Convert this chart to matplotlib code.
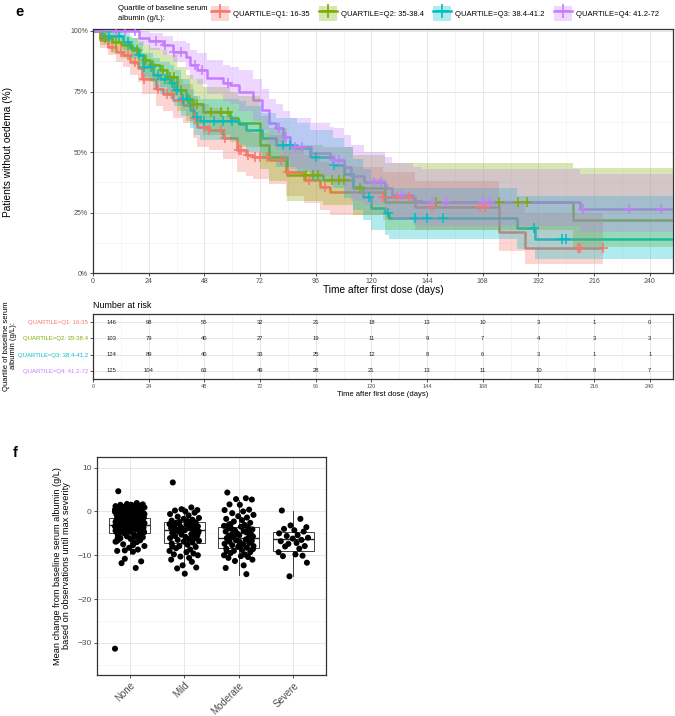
import numpy as np
import matplotlib
matplotlib.use("Agg")
import matplotlib.pyplot as plt
from matplotlib.patches import Patch
from matplotlib.lines import Line2D
from matplotlib.ticker import FixedLocator

plt.rcParams['font.family'] = ['Liberation Sans', 'DejaVu Sans']

# ---------------- data: panel e (Kaplan-Meier) ----------------
group_labels = ["QUARTILE=Q1: 16-35", "QUARTILE=Q2: 35-38.4",
                "QUARTILE=Q3: 38.4-41.2", "QUARTILE=Q4: 41.2-72"]

q1_t = [0, 3, 6.5, 10, 13, 16, 19.5, 21, 27, 30, 34.5, 39, 43, 45, 50, 56, 62, 66, 69, 76,
        83, 91, 98, 102, 125, 139, 175, 186]
q1_s = [1.0, .963, .935, .914, .90, .873, .847, .80, .76, .74, .715, .694, .64, .605, .59, .56, .51, .49, .48, .467,
        .42, .385, .357, .336, .316, .273, .171, .103]
q1_lo = [1.0, .93, .90, .87, .85, .82, .79, .74, .69, .67, .64, .62, .56, .52, .51, .47, .42, .40, .39, .37,
         .32, .29, .26, .24, .22, .18, .09, .04]
q1_up = [1.0, .99, .98, .96, .95, .93, .91, .87, .83, .82, .80, .78, .73, .70, .68, .65, .61, .59, .58, .57,
         .52, .49, .46, .44, .42, .38, .30, .25]
q1_end = 220
q1_cens = [8, 12, 15, 18, 22, 28, 32, 34, 38, 44, 48, 50, 55, 57, 63, 64, 67, 70, 72, 75, 81, 84,
           93, 100, 125, 131, 136, 146, 167, 169, 209, 210, 220]

q2_t = [0, 3, 8, 12, 17, 20, 22, 24.6, 29, 32, 36, 40, 43, 47.5, 59, 62.5, 72, 76, 83.5, 99,
        112, 126, 207]
q2_s = [1.0, .97, .955, .94, .92, .90, .88, .86, .84, .81, .756, .715, .70, .667, .64, .62, .53, .48, .405, .385,
        .35, .295, .219]
q2_lo = [1.0, .94, .91, .89, .86, .84, .81, .79, .77, .73, .67, .63, .61, .57, .54, .52, .43, .38, .30, .28,
         .24, .18, .11]
q2_up = [1.0, 1.0, .99, .98, .97, .96, .94, .93, .92, .90, .85, .82, .80, .77, .75, .73, .65, .60, .53, .52,
         .49, .455, .435]
q2_end = 250
q2_cens = [5, 10, 15, 19, 23, 26, 30, 33, 35, 38, 42, 45, 51, 55, 58, 92, 95, 97, 103, 106, 108,
           115, 148, 175, 183, 187]

q3_t = [0, 4, 13, 16, 19.5, 21.6, 26, 29, 33, 35, 38, 42, 43.5, 46, 63, 66, 73, 79, 88, 93.5,
        103.5, 108, 112, 116.5, 120, 126, 127.5, 182.6, 190.5]
q3_s = [1.0, .98, .955, .93, .90, .85, .82, .80, .785, .756, .72, .674, .646, .63, .615, .59, .56, .53, .515, .48,
        .446, .41, .357, .315, .268, .248, .227, .185, .143]
q3_lo = [1.0, .955, .92, .89, .86, .80, .76, .74, .72, .69, .65, .60, .57, .55, .53, .50, .47, .44, .42, .38,
         .35, .31, .26, .22, .18, .16, .14, .10, .06]
q3_up = [1.0, 1.0, .99, .97, .95, .91, .89, .87, .86, .84, .80, .76, .73, .72, .71, .69, .66, .64, .62, .59,
         .56, .52, .47, .43, .39, .37, .35, .32, .32]
q3_end = 250
q3_cens = [7, 11, 15, 20, 22, 25, 28, 31, 34, 36, 39, 41, 45, 48, 52, 56, 60, 82, 85, 96, 104,
           119, 127, 139, 144, 151, 190, 202, 204]

q4_t = [0, 20, 24, 30, 34.5, 40, 42, 45, 49, 56, 59, 63, 69, 73, 76, 79, 82, 85, 94, 102,
        104, 108, 111, 117, 126, 129, 138, 142, 210]
q4_s = [1.0, .97, .96, .94, .914, .894, .86, .84, .805, .784, .777, .75, .715, .674, .62, .60, .563, .52, .496, .475,
        .467, .44, .40, .378, .35, .322, .30, .295, .267]
q4_lo = [1.0, .94, .92, .90, .87, .84, .80, .78, .74, .71, .70, .67, .63, .59, .53, .51, .47, .43, .40, .38,
         .37, .34, .30, .28, .25, .22, .20, .195, .17]
q4_up = [1.0, 1.0, .99, .98, .96, .95, .92, .91, .88, .86, .85, .84, .80, .76, .72, .70, .67, .64, .62, .605,
         .60, .57, .53, .50, .48, .455, .44, .43, .41]
q4_end = 250
q4_cens = [10, 14, 18, 27, 31, 35, 38, 44, 47, 58, 80, 83, 87, 90, 104, 106, 121, 124, 133,
           146, 152, 168, 171, 211, 231, 245]

risk_times = [0, 24, 48, 72, 96, 120, 144, 168, 192, 216, 240]
risk_q1 = [146, 98, 55, 32, 21, 18, 13, 10, 3, 1, 0]
risk_q2 = [103, 79, 40, 27, 19, 11, 9, 7, 4, 3, 3]
risk_q3 = [124, 89, 40, 33, 25, 12, 8, 6, 3, 1, 1]
risk_q4 = [125, 104, 63, 49, 28, 21, 13, 11, 10, 8, 7]

# ---------------- data: panel f (box + jitter) ----------------
severity = ["None", "Mild", "Moderate", "Severe"]
box_q1 = [-4.9, -7.2, -8.3, -9.0]
box_med = [-3.1, -4.35, -6.0, -6.2]
box_q3 = [-1.4, -2.5, -3.6, -4.7]
box_whislo = [-9.8, -12.5, -14.4, -14.8]
box_whishi = [2.0, 1.0, 2.6, 0.2]

none_vals = [4.6, 1.9, 1.7, 1.6, 1.5, 1.5, 1.3, 1.2, 1.1, 0.9, 0.9, 0.8, 0.6, 0.5, 0.5, 0.4, 0.2, 0.1,
             0.1, -0.1, -0.2, -0.3, -0.3, -0.5, -0.6, -0.7, -0.8, -0.8, -1.0, -1.1, -1.2, -1.2, -1.3,
             -1.4, -1.5, -1.6, -1.7, -1.7, -1.9, -2.0, -2.1, -2.1, -2.3, -2.4, -2.4, -2.5, -2.6, -2.7,
             -2.8, -2.9, -2.9, -3.0, -3.1, -3.2, -3.3, -3.3, -3.4, -3.5, -3.6, -3.7, -3.8, -3.9, -4.0,
             -4.0, -4.1, -4.3, -4.4, -4.5, -4.6, -4.7, -4.8, -4.9, -5.1, -5.2, -5.4, -5.6, -5.7, -5.9,
             -6.1, -6.3, -6.6, -6.9, -7.2, -7.5, -7.9, -8.3, -8.7, -9.0, -9.2, -10.8, -11.4, -11.8,
             -12.9, -31.3, 1.4, 0.7, 0.3, -0.4, -0.9, -1.5, -1.8, -2.2, -2.6, -3.0, -3.4, -3.8, -4.2,
             -4.6, -5.0, -5.5, -6.0, -6.5, -7.0, -0.2, -1.1, -2.0, -2.8, -3.6, -4.4, -5.3, 1.0, -0.6,
             -2.5, -3.2, -4.8, -7.7, -8.9, -3.9, -2.3, -1.3, 0.4, -0.7, -1.9, -2.7, -3.5, -4.1, -5.8,
             -6.8, 1.2, -1.6, -3.0, -4.5]
mild_vals = [6.6, 0.9, 0.5, 0.3, 0.2, 0.0, -0.3, -0.6, -0.9, -1.2, -1.5, -1.7, -1.9, -2.1, -2.2, -2.4,
             -2.5, -2.6, -2.8, -2.9, -3.0, -3.1, -3.3, -3.4, -3.5, -3.6, -3.8, -3.9, -4.0, -4.1, -4.2,
             -4.3, -4.4, -4.5, -4.6, -4.7, -4.9, -5.0, -5.2, -5.3, -5.5, -5.6, -5.8, -6.0, -6.1, -6.3,
             -6.5, -6.7, -6.9, -7.1, -7.3, -7.6, -7.9, -8.1, -8.4, -8.7, -9.0, -9.3, -9.6, -9.8, -10.0,
             -10.3, -10.6, -11.0, -11.5, -12.3, -12.8, -13.0, -14.2, -3.7, -4.8, -2.7, -6.2, -8.0]
moderate_vals = [4.3, 3.0, 2.8, 2.7, 1.6, 1.5, 0.4, 0.3, 0.0, -0.4, -0.8, -1.1, -1.4, -1.7, -2.0, -2.3,
                 -2.6, -2.9, -3.1, -3.3, -3.5, -3.7, -3.9, -4.1, -4.3, -4.5, -4.6, -4.8, -5.0, -5.1,
                 -5.3, -5.4, -5.6, -5.7, -5.9, -6.0, -6.1, -6.3, -6.4, -6.6, -6.7, -6.9, -7.0, -7.2,
                 -7.4, -7.5, -7.7, -7.9, -8.1, -8.3, -8.5, -8.8, -9.0, -9.3, -9.5, -9.8, -10.0, -10.2,
                 -10.4, -10.6, -11.0, -11.3, -12.3, -12.9, -14.3, -5.2, -6.2, -4.0, -7.8, -3.0, -8.6,
                 -5.8, -4.4, -9.1]
severe_vals = [0.2, -1.7, -3.2, -3.6, -4.0, -4.3, -4.6, -5.0, -5.4, -5.6, -6.0, -6.2, -6.5, -6.8,
               -7.2, -7.4, -7.9, -8.0, -8.5, -9.3, -9.8, -10.1, -10.2, -11.7, -14.8]

# ---------------- style ----------------
W, H = 675, 716
cols = ["#F8766D", "#7CAE00", "#00BFC4", "#C77CFF"]
jitter_offsets = [-0.21, 0.13, -0.05, 0.24, -0.17, 0.02, 0.19, -0.26, 0.08, -0.12, 0.27, -0.01,
                  0.15, -0.23, 0.06, -0.09, 0.21, -0.15, 0.11, -0.27, 0.04, 0.17, -0.19, 0.25,
                  -0.07, 0.09, -0.24, 0.14, -0.03, 0.22, -0.13, 0.01, -0.18, 0.26, -0.10, 0.18, -0.22]
BORDER = "#333333"
TICKLAB = "#4D4D4D"
GRIDMAJ = "#E6E6E6"
GRIDMIN = "#F2F2F2"

fig = plt.figure(figsize=(W / 100, H / 100), dpi=100)
fig.patch.set_facecolor("white")


def px_axes(l, t, r, b):
    return fig.add_axes([l / W, 1 - b / H, (r - l) / W, (b - t) / H])


def theme_bw(ax, labsize):
    for sp in ax.spines.values():
        sp.set_color(BORDER)
        sp.set_linewidth(0.9)
    ax.tick_params(which="major", color=BORDER, length=2.2, width=0.6,
                   labelcolor=TICKLAB, labelsize=labsize, pad=1.5)
    ax.tick_params(which="minor", length=0)
    ax.grid(True, which="major", color=GRIDMAJ, lw=0.7, zorder=0)
    ax.grid(True, which="minor", color=GRIDMIN, lw=0.5, zorder=0)
    ax.set_axisbelow(True)


# ---------------- panel e: KM ----------------
ax = px_axes(93, 29, 673, 273.3)
theme_bw(ax, 5)
groups = [(q1_t, q1_s, q1_lo, q1_up, q1_end, q1_cens),
          (q2_t, q2_s, q2_lo, q2_up, q2_end, q2_cens),
          (q3_t, q3_s, q3_lo, q3_up, q3_end, q3_cens),
          (q4_t, q4_s, q4_lo, q4_up, q4_end, q4_cens)]
for (t, s, lo, up, end, cens), c in zip(groups, cols):
    tl = list(t) + [end]
    sl = list(s) + [s[-1]]
    lol = list(lo) + [lo[-1]]
    upl = list(up) + [up[-1]]
    ax.step(tl, sl, where="post", color=c, lw=1.8, zorder=2, solid_capstyle="butt")
    ax.fill_between(tl, lol, upl, step="post", color=c, alpha=0.3, lw=0, zorder=3)
for (t, s, lo, up, end, cens), c in zip(groups, cols):
    idx = np.searchsorted(np.array(t), np.array(cens), side="right") - 1
    ax.plot(cens, np.array(s)[idx], ls="none", marker="+", ms=7, mew=1.1, color=c, zorder=4)

ax.set_xlim(0, 250)
ax.set_ylim(0, 1.008)
ax.xaxis.set_major_locator(FixedLocator(risk_times))
ax.xaxis.set_minor_locator(FixedLocator([12 + 24 * i for i in range(11)]))
ax.yaxis.set_major_locator(FixedLocator([0, .25, .5, .75, 1.0]))
ax.yaxis.set_minor_locator(FixedLocator([.125, .375, .625, .875]))
ax.set_yticklabels(["0%", "25%", "50%", "75%", "100%"])
fig.text(383 / W, 1 - 290 / H, "Time after first dose (days)", ha="center", va="center", fontsize=7.3)
fig.text(8 / W, 1 - 152 / H, "Patients without oedema (%)", ha="center", va="center",
         rotation=90, fontsize=7.3)
fig.text(20 / W, 1 - 12 / H, "e", ha="center", va="center", fontsize=10.5, fontweight="bold")

# legend
fig.text(118 / W, 1 - 13.5 / H, "Quartile of baseline serum\nalbumin (g/L):", ha="left", va="center",
         fontsize=5.5, linespacing=1.5)
handles = [(Patch(facecolor=c, alpha=0.3, edgecolor="none"),
            Line2D([], [], color=c, lw=1.8, marker="+", ms=10, mew=1.2)) for c in cols]
fig.legend(handles, group_labels, loc="center left", bbox_to_anchor=(211 / W, 1 - 13.5 / H),
           ncol=4, frameon=False, fontsize=5.5, handlelength=2.3, handleheight=2.6,
           handletextpad=0.6, columnspacing=1.2, borderpad=0, borderaxespad=0)

# ---------------- risk table ----------------
axr = px_axes(93, 314, 673, 379)
theme_bw(axr, 4)
axr.set_xlim(0, 250)
axr.set_ylim(4.5, 0.5)
axr.xaxis.set_major_locator(FixedLocator(risk_times))
axr.xaxis.set_minor_locator(FixedLocator([12 + 24 * i for i in range(11)]))
axr.yaxis.set_major_locator(FixedLocator([1, 2, 3, 4]))
axr.set_yticklabels(group_labels, fontsize=4.3)
for tl_, c in zip(axr.get_yticklabels(), cols):
    tl_.set_color(c)
first_col_x = 8
for row, (vals, c) in enumerate(zip([risk_q1, risk_q2, risk_q3, risk_q4], cols), start=1):
    for tt, v in zip(risk_times, vals):
        axr.text(tt if tt > 0 else first_col_x, row, str(v), ha="center", va="center",
                 fontsize=4.2, color="#222222")
axr.set_title("Number at risk", loc="left", fontsize=6.4, pad=4)
axr.set_xlabel("Time after first dose (days)", fontsize=5.5, labelpad=1.5)
fig.text(10 / W, 1 - 346 / H, "Quartile of baseline serum\nalbumin (g/L):", ha="center",
         va="center", rotation=90, fontsize=5.5, linespacing=1.1)

# ---------------- panel f: box + jitter ----------------
axb = px_axes(97, 457, 326, 675)
theme_bw(axb, 6)

stats = []
for i in range(4):
    stats.append({"med": box_med[i], "q1": box_q1[i], "q3": box_q3[i],
                  "whislo": box_whislo[i], "whishi": box_whishi[i], "fliers": []})
axb.bxp(stats, positions=[1, 2, 3, 4], widths=0.75, showfliers=False, showcaps=False,
        patch_artist=True,
        boxprops=dict(facecolor="white", edgecolor="#222222", lw=0.6),
        medianprops=dict(color="#222222", lw=1.0),
        whiskerprops=dict(color="#222222", lw=0.6), zorder=2)
for i, vals in enumerate([none_vals, mild_vals, moderate_vals, severe_vals]):
    xs = [i + 1 + jitter_offsets[k % len(jitter_offsets)] for k in range(len(vals))]
    axb.scatter(xs, vals, s=19, color="black", edgecolors="none", zorder=3)

axb.set_xlim(0.4, 4.6)
axb.set_ylim(-37.3, 12.4)
axb.yaxis.set_major_locator(FixedLocator([-30, -20, -10, 0, 10]))
axb.yaxis.set_minor_locator(FixedLocator([-35, -25, -15, -5, 5]))
axb.xaxis.set_major_locator(FixedLocator([1, 2, 3, 4]))
axb.xaxis.set_minor_locator(FixedLocator([]))
axb.set_xticklabels(severity, rotation=45, ha="right", rotation_mode="anchor", fontsize=7)
axb.grid(True, which="major", color=GRIDMAJ, lw=0.7)

fig.text(62 / W, 1 - 566 / H,
         "Mean change from baseline serum albumin (g/L)\nbased on observations until max severity",
         ha="center", va="center", rotation=90, fontsize=6.6, linespacing=1.05,
         multialignment="center")
fig.text(15 / W, 1 - 453 / H, "f", ha="center", va="center", fontsize=10.5, fontweight="bold")

fig.savefig("out.png", dpi=100, facecolor="white")
